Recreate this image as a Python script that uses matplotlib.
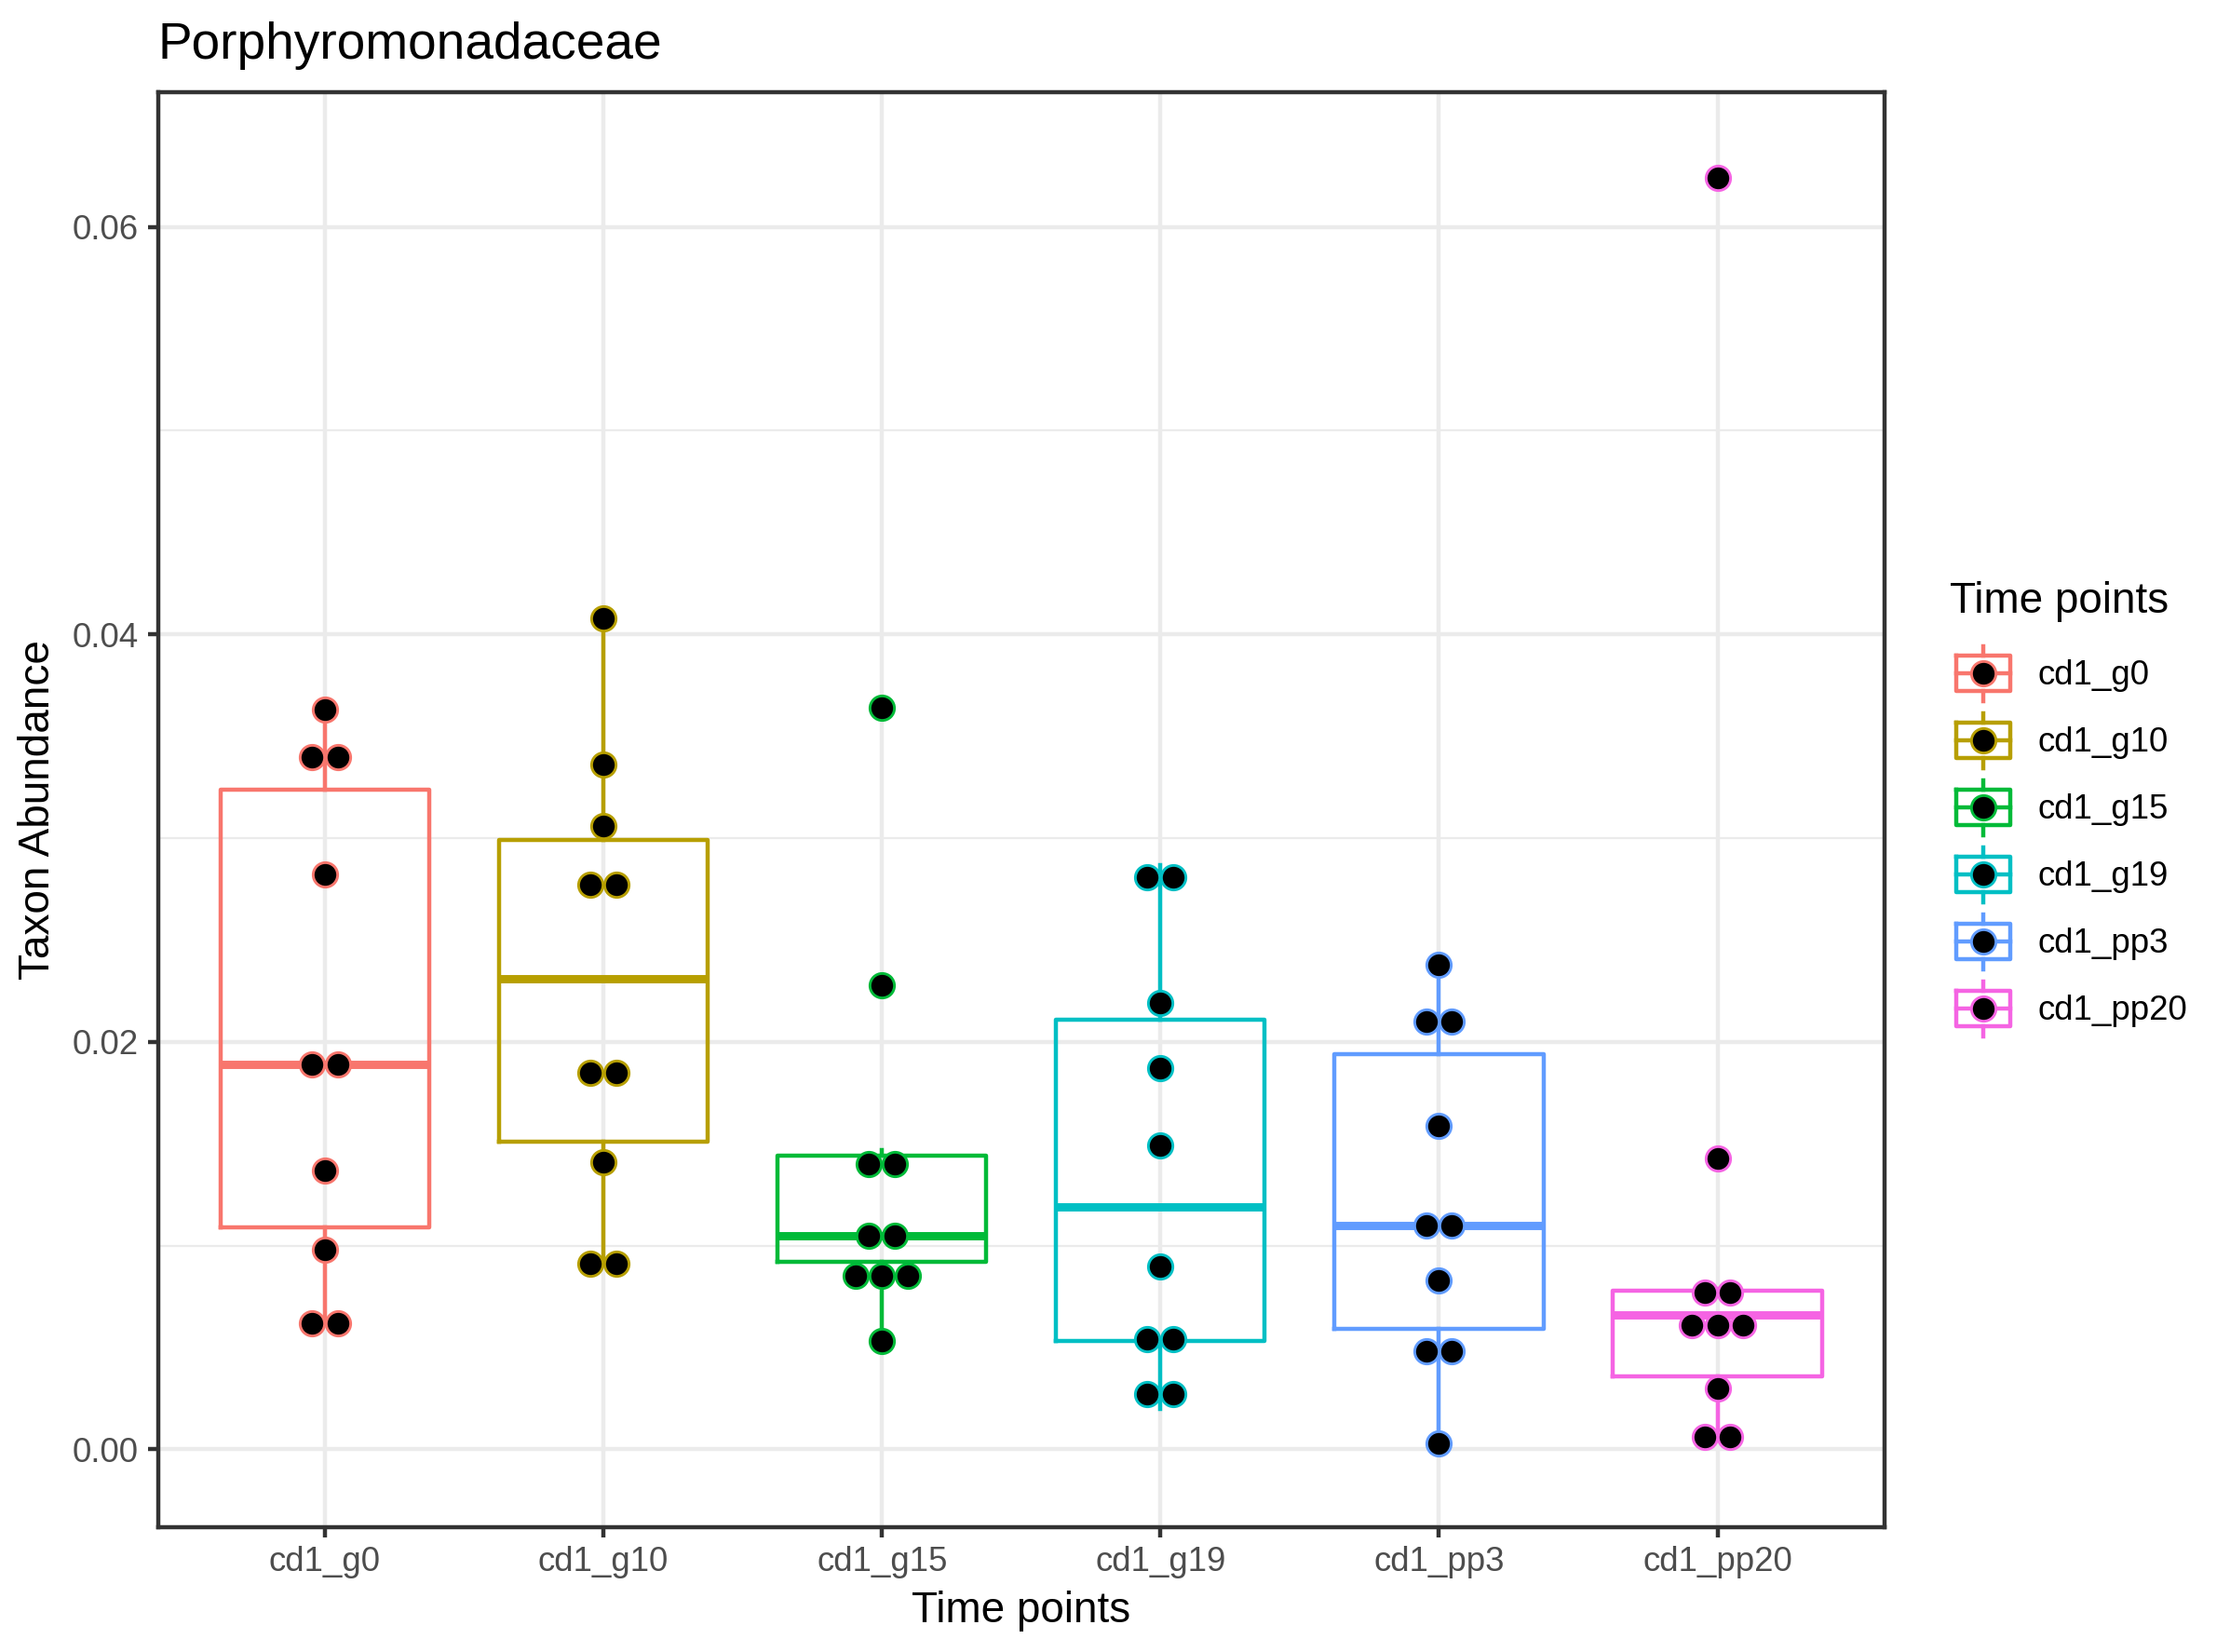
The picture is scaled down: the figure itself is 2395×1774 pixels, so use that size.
import matplotlib.pyplot as plt
from itertools import groupby

plt.rcParams['font.family'] = ['Liberation Sans', 'DejaVu Sans']

# Time points and their colours (default ggplot hue palette)
groups = ['cd1_g0', 'cd1_g10', 'cd1_g15', 'cd1_g19', 'cd1_pp3', 'cd1_pp20']
colors = ['#F8766D', '#B79F00', '#00BA38', '#00BFC4', '#619CFF', '#F564E3']

# Box statistics
q1 = [0.0109, 0.0151, 0.0092, 0.0053, 0.0059, 0.0036]
medians = [0.0189, 0.0231, 0.0105, 0.0119, 0.0110, 0.0066]
q3 = [0.0324, 0.0299, 0.0144, 0.0211, 0.0194, 0.0078]
whisker_low = [0.0062, 0.0091, 0.0053, 0.0020, 0.0003, 0.0006]
whisker_high = [0.0363, 0.0408, 0.0147, 0.0287, 0.0238, 0.0079]

# Dot positions (binned abundances), equal values are stacked side by side
dots_g0 = [0.0363, 0.0340, 0.0340, 0.0282, 0.0189, 0.0189, 0.0137, 0.0098, 0.0062, 0.0062]
dots_g10 = [0.0408, 0.0336, 0.0306, 0.0277, 0.0277, 0.0185, 0.0185, 0.0141, 0.0091, 0.0091]
dots_g15 = [0.0364, 0.0228, 0.0140, 0.0140, 0.0105, 0.0105, 0.0085, 0.0085, 0.0085, 0.0053]
dots_g19 = [0.0281, 0.0281, 0.0219, 0.0187, 0.0149, 0.0090, 0.0054, 0.0054, 0.0027, 0.0027]
dots_pp3 = [0.0238, 0.0210, 0.0210, 0.0159, 0.0110, 0.0110, 0.0083, 0.0048, 0.0048, 0.0003]
dots_pp20 = [0.0624, 0.0143, 0.0077, 0.0077, 0.0061, 0.0061, 0.0061, 0.0030, 0.0006, 0.0006]
dots = [dots_g0, dots_g10, dots_g15, dots_g19, dots_pp3, dots_pp20]

yticks = [0.0, 0.02, 0.04, 0.06]
ytick_labels = ['0.00', '0.02', '0.04', '0.06']

W, H = 2395, 1774
lw = 1.07
fig = plt.figure(figsize=(W / 300, H / 300), dpi=300)

# Panel placed in pixel units
left, right, top, bottom = 169.5, 2024, 99.3, 1639.6
ax = fig.add_axes([left / W, 1 - bottom / H, (right - left) / W, (bottom - top) / H])

positions = list(range(1, len(groups) + 1))
stats = [dict(med=m, q1=a, q3=b, whislo=lo, whishi=hi, fliers=[])
         for m, a, b, lo, hi in zip(medians, q1, q3, whisker_low, whisker_high)]
bp = ax.bxp(stats, positions=positions, widths=0.75, showcaps=False,
            showfliers=False, zorder=2)
for i, c in enumerate(colors):
    bp['boxes'][i].set(color=c, linewidth=lw)
    bp['medians'][i].set(color=c, linewidth=2 * lw, solid_capstyle='butt')
    bp['whiskers'][2 * i].set(color=c, linewidth=lw)
    bp['whiskers'][2 * i + 1].set(color=c, linewidth=lw)

# Dotplot on top of the boxes
step = 0.093
for pos, vals, c in zip(positions, dots, colors):
    for v, grp in groupby(vals):
        n = len(list(grp))
        xs = [pos + (j - (n - 1) / 2) * step for j in range(n)]
        ax.plot(xs, [v] * n, 'o', ms=6.3, mfc='black', mec=c, mew=0.7, zorder=3)

ax.set_xlim(0.4, 6.6)
ax.set_ylim(-0.0038, 0.0666)
ax.set_xticks(positions)
ax.set_xticklabels(groups)
ax.set_yticks(yticks)
ax.set_yticklabels(ytick_labels)
ax.set_yticks([0.01, 0.03, 0.05], minor=True)

ax.set_axisbelow(True)
ax.grid(True, which='major', color='#EBEBEB', linewidth=lw)
ax.yaxis.grid(True, which='minor', color='#EBEBEB', linewidth=lw / 2)
ax.tick_params(which='major', length=2.75, width=lw, color='#333333',
               labelsize=8.8, labelcolor='#4D4D4D', pad=2.2)
ax.tick_params(which='minor', length=0)
for s in ax.spines.values():
    s.set_color('#333333')
    s.set_linewidth(lw)

# Overlay in pixel coordinates for titles and legend
over = fig.add_axes([0, 0, 1, 1])
over.set_xlim(0, W)
over.set_ylim(H, 0)
over.axis('off')

over.text(left, 63, 'Porphyromonadaceae', fontsize=13.2, ha='left', va='baseline')
over.text((left + right) / 2, 1742, 'Time points', fontsize=11, ha='center', va='baseline')
over.text(41, (top + bottom) / 2, 'Taxon Abundance', fontsize=11, rotation=90,
          ha='center', va='center')

# Legend
over.text(2094, 658, 'Time points', fontsize=11, ha='left', va='baseline')
key_x = 2130
rows = [723, 795, 867, 939, 1011, 1083]
for g, c, cy in zip(groups, colors, rows):
    over.plot([key_x - 28.8, key_x + 28.8, key_x + 28.8, key_x - 28.8, key_x - 28.8],
              [cy - 19, cy - 19, cy + 19, cy + 19, cy - 19], color=c, lw=lw)
    over.plot([key_x - 28.8, key_x + 28.8], [cy, cy], color=c, lw=lw)
    over.plot([key_x, key_x], [cy - 29.5, cy - 19], color=c, lw=lw)
    over.plot([key_x, key_x], [cy + 19, cy + 29.5], color=c, lw=lw)
    over.plot([key_x], [cy], 'o', ms=6.3, mfc='black', mec=c, mew=0.7)
    over.text(2188, cy + 12, g, fontsize=8.8, ha='left', va='baseline')

fig.savefig('out.png', dpi=300)
